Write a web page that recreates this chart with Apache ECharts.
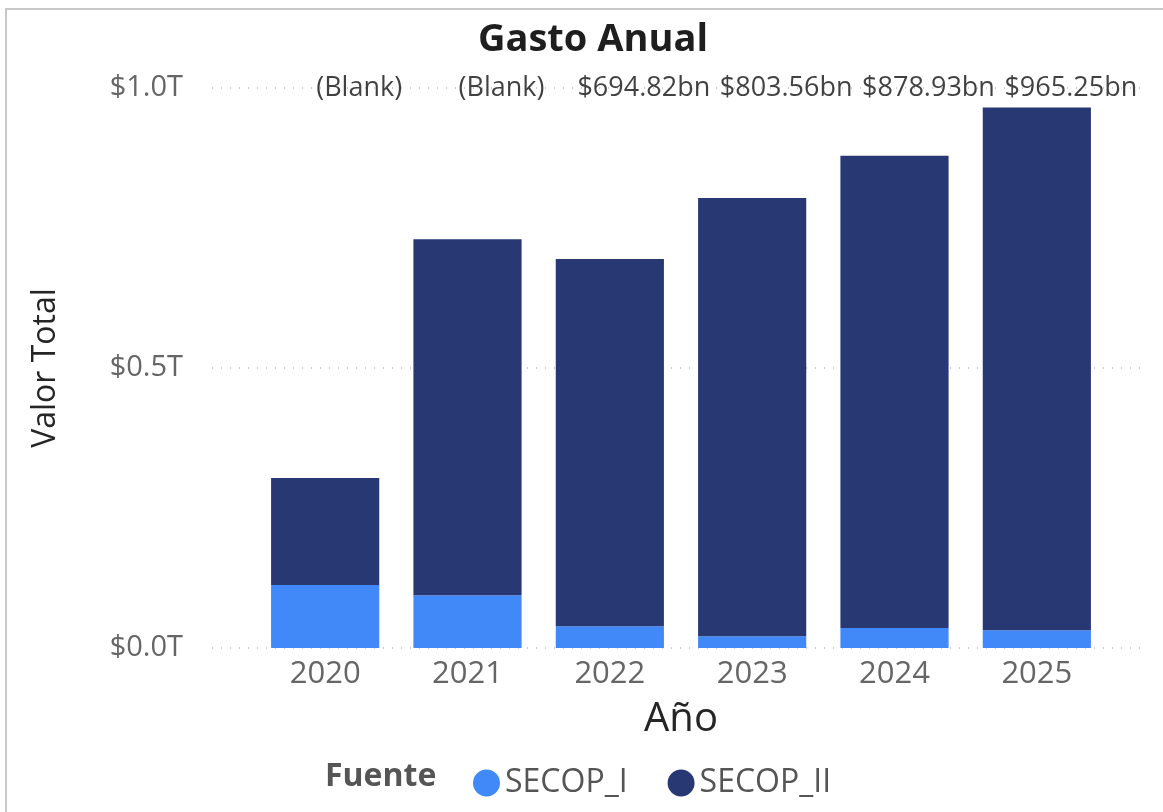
<!DOCTYPE html>
<html><head><meta charset="utf-8">
<script src="https://cdn.jsdelivr.net/npm/echarts@6/dist/echarts.min.js"></script>
<style>html,body{margin:0;padding:0;background:#fff}#c{width:1163px;height:812px}</style>
</head><body><div id="c"></div>
<script>
const years = ['2020','2021','2022','2023','2024','2025'];
const secopI = [112.5, 94.0, 38.8, 20.9, 35.7, 31.6];
const secopII = [191.1, 636.0, 656.0, 782.7, 843.2, 933.7];
const totalLabels = ['(Blank)','(Blank)','$694.82bn','$803.56bn','$878.93bn','$965.25bn'];
const yTicks = [0, 500, 1000];
const yTickLabels = ['$0.0T','$0.5T','$1.0T'];
const yMax = 1000;

const FONT = '"Open Sans", "Noto Sans", sans-serif';
const chart = echarts.init(document.getElementById('c'));
chart.setOption({
  animation: false,
  textStyle: {fontFamily: FONT},
  graphic: [{type: 'rect', shape: {x: 6, y: 9, width: 1200, height: 900},
    style: {fill: 'none', stroke: '#c8c8c8', lineWidth: 2}, silent: true}],
  title: [
    {text: 'Gasto Anual', left: 588, textAlign: 'center', top: 16,
     textStyle: {fontSize: 38, fontWeight: 'bold', color: '#1e1e1e', fontFamily: FONT}},
    {text: 'Fuente', left: 320, top: 756,
     textStyle: {fontSize: 32, fontWeight: 'bold', color: '#555', fontFamily: FONT}}
  ],
  legend: {
    data: ['SECOP_I', 'SECOP_II'], left: 468, top: 762, icon: 'circle',
    itemWidth: 27, itemHeight: 27, itemGap: 40,
    textStyle: {fontSize: 32, color: '#555', fontFamily: FONT}
  },
  grid: [
    {left: 254, right: 55, top: 88, bottom: 164},
    {left: 212, right: 23, top: 88, bottom: 164}
  ],
  xAxis: [
    {type: 'category', gridIndex: 0, data: years,
     axisLine: {show: false}, axisTick: {show: false},
     axisLabel: {fontSize: 31, color: '#666', margin: 11, fontFamily: FONT},
     name: 'Año', nameLocation: 'middle', nameGap: 52,
     nameTextStyle: {fontSize: 40, color: '#252525', fontFamily: FONT}},
    {type: 'value', gridIndex: 1, min: 0, max: 1, show: false}
  ],
  yAxis: [
    {type: 'value', gridIndex: 0, min: 0, max: yMax, interval: 500,
     axisLabel: {show: false}, splitLine: {show: false}, axisLine: {show: false}, axisTick: {show: false}},
    {type: 'value', gridIndex: 1, min: 0, max: yMax, interval: 500,
     axisLine: {show: false}, axisTick: {show: false},
     axisLabel: {fontSize: 29, color: '#666', margin: 29, fontFamily: FONT,
       formatter: v => yTickLabels[yTicks.indexOf(v)]},
     splitLine: {show: true, lineStyle: {type: [1, 8], color: '#bdbdbd', width: 1.5}},
     name: 'Valor Total', nameLocation: 'middle', nameGap: 150,
     nameTextStyle: {fontSize: 32, color: '#252525', fontFamily: FONT}}
  ],
  series: [
    {name: 'SECOP_I', type: 'bar', stack: 'total', xAxisIndex: 0, yAxisIndex: 0,
     data: secopI, barWidth: '76%', itemStyle: {color: '#4189f8'}},
    {name: 'SECOP_II', type: 'bar', stack: 'total', xAxisIndex: 0, yAxisIndex: 0,
     data: secopII, barWidth: '76%', itemStyle: {color: '#283873'}},
    {name: 'totals', type: 'scatter', xAxisIndex: 0, yAxisIndex: 0,
     data: years.map(() => yMax), symbolSize: 0, silent: true, z: 10,
     label: {show: true, position: 'inside', offset: [34, 0],
       formatter: p => totalLabels[p.dataIndex],
       fontSize: 27, color: '#111', fontFamily: FONT}}
  ]
});
</script></body></html>
